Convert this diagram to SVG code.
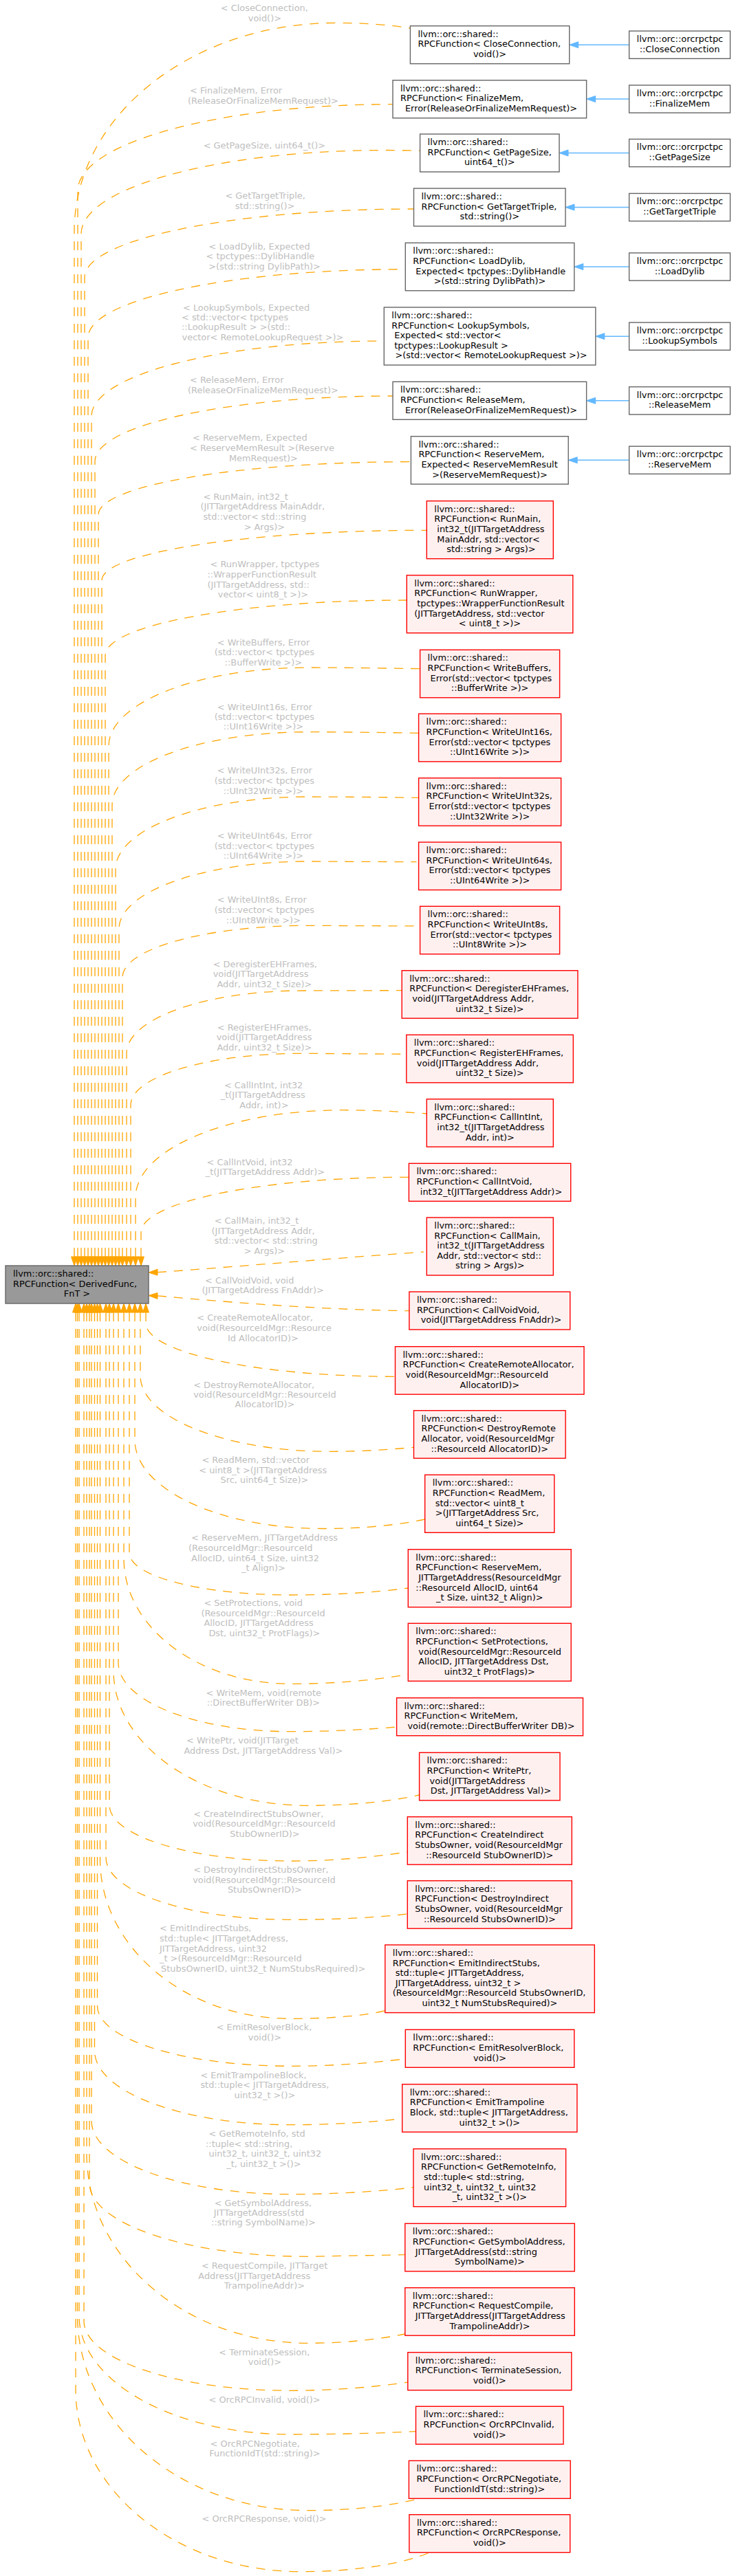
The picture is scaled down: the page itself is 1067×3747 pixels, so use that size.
<svg xmlns="http://www.w3.org/2000/svg" width="1067" height="3747" viewBox="0 0 1067 3747">
<style>
text{font-family:'DejaVu Sans',sans-serif;font-size:12.9px;fill:#000}
.m{text-anchor:middle}
.el{fill:#BEBEBE}
.g{fill:#fff;stroke:#666;stroke-width:1.4}
.r{fill:#FFF0F0;stroke:#FF0000;stroke-width:1.4}
.c{fill:#999;stroke:#666;stroke-width:1.4}
.e{fill:none;stroke:#FFA500;stroke-width:1.3;stroke-dasharray:13 11}
.a{fill:#FFA500;stroke:#FFA500;stroke-width:1}
.b{fill:none;stroke:#63B8FF;stroke-width:1.5}
.ba{fill:#63B8FF;stroke:#63B8FF;stroke-width:1}
</style>
<rect width="1067" height="3747" fill="#fff"/>
<g id="edges">
<path class="e" d="M108,1828 L108,336.3 C108,169 278.4,33.3 488.6,33.3 C530,33.3 565,36 596.4,41"/>
<path class="e" d="M113,1828 L113,277.6 C113,208.1 318,151.7 571,151.7"/>
<path class="e" d="M118,1828 L118,340.1 C118,272.9 315.9,218.5 560,218.5 L610.6,219"/>
<path class="e" d="M123,1828 L123,403.3 C123,348.5 337.2,304 601.5,304"/>
<path class="e" d="M128,1828 L128,490.9 C128,436.1 334.5,391.7 589.3,391.7"/>
<path class="e" d="M133,1828 L133,605.5 C133,545 323.4,496 558.3,496"/>
<path class="e" d="M138,1828 L138,671 C138,618.5 331.9,576 571,576"/>
<path class="e" d="M143,1828 L143,748.7 C143,706.2 346.4,671.7 597.4,671.7"/>
<path class="e" d="M148,1828 L148,844.2 C148,803.9 359.4,771.3 620.3,771.3"/>
<path class="e" d="M153,1828 L153,953.3 C153,909 349.2,873 591.3,873"/>
<path class="e" d="M158,1828 L158,1085.3 C158,1022.2 288.7,971 450,971 C500,971 560,972 610.6,972.7"/>
<path class="e" d="M163,1828 L163,1171.1 C163,1112.3 290.6,1064.7 448,1064.7 C500,1064.7 560,1065.5 608.6,1066.3"/>
<path class="e" d="M168,1828 L168,1264.3 C168,1206.1 293.4,1159 448,1159 C500,1159 560,1159.7 608.6,1160.3"/>
<path class="e" d="M173,1828 L173,1351 C173,1296.9 296.1,1253 448,1253 L605.5,1253.7"/>
<path class="e" d="M178,1828 L178,1421.7 C178,1380.1 298.9,1346.3 448,1346.3 L610.6,1347"/>
<path class="e" d="M184,1828 L184,1532.2 C184,1481.8 298.6,1441 440,1441 L584.2,1440.7"/>
<path class="e" d="M190,1828 L190,1607.3 C190,1565.9 302,1532.3 440,1532.3 L590.8,1533.3"/>
<path class="e" d="M197,1828 L197,1742 C197,1671.7 332.1,1614.7 498.8,1614.7 C540,1614.7 585,1617 620.3,1620"/>
<path class="e" d="M205,1828 L205,1792.8 C205,1748.3 379.3,1712.3 594.4,1712.3"/>
<path class="e" d="M229,1850.6 C300,1846 450,1833 615.7,1821"/>
<path class="e" d="M229,1884.9 C300,1891 450,1905 595.4,1906.7"/>
<path class="e" d="M212,1909 L212,1924.6 C212,1967.5 374.5,2002.3 575,2002.3"/>
<path class="e" d="M204,1909 L204,2001.3 C204,2062.1 327.6,2111.3 480,2111.3 C530,2111.3 570,2108 601.5,2105.3"/>
<path class="e" d="M196,1909 L196,2094.6 C196,2165.8 318.7,2223.5 470,2223.5 C530,2223.5 580,2218 617.7,2210"/>
<path class="e" d="M188,1909 L188,2258.8 C188,2292.6 293,2320 422.5,2320 C480,2320 540,2317 593.3,2310"/>
<path class="e" d="M180,1909 L180,2266.8 C180,2367.6 288.6,2449.3 422.5,2449.3 C480,2449.3 540,2445 593.3,2435.3"/>
<path class="e" d="M172,1909 L172,2418.7 C172,2473.9 284.2,2518.7 422.5,2518.7 C480,2518.7 530,2516 576.6,2512"/>
<path class="e" d="M165,1909 L165,2430.3 C165,2538.6 291.7,2626.3 448,2626.3 C510,2626.3 570,2620 609.6,2611"/>
<path class="e" d="M159,1909 L159,2625.7 C159,2670.6 277,2707 422.5,2707 C480,2707 540,2702 592.3,2693.7"/>
<path class="e" d="M154,1909 L154,2701.9 C154,2751.8 274.2,2792.3 422.5,2792.3 C480,2792.3 540,2790 592.3,2784"/>
<path class="e" d="M145.5,1909 L145.5,2704.3 C145.5,2832.4 269.5,2936.3 422.5,2936.3 C480,2936.3 530,2932 559.8,2924.7"/>
<path class="e" d="M141.5,1909 L141.5,2917.8 C141.5,2966.1 267.3,3005.3 422.5,3005.3 C480,3005.3 540,3001 589.3,2994.7"/>
<path class="e" d="M137.5,1909 L137.5,2983.1 C137.5,3042.5 265.1,3090.7 422.5,3090.7 C480,3090.7 540,3087 584.7,3081.7"/>
<path class="e" d="M133,1909 L133,3085 C133,3143.9 262.6,3191.7 422.5,3191.7 C480,3191.7 550,3188 601,3181.7"/>
<path class="e" d="M130,1909 L130,3175.5 C130,3234.5 272.4,3282.3 448,3282.3 L588.8,3279.7"/>
<path class="e" d="M126,1909 L126,3132.3 C126,3284.7 270.2,3408.3 448,3408.3 C500,3408.3 550,3403 588.8,3395"/>
<path class="e" d="M122,1909 L122,3376.1 C122,3432 256.5,3477.3 422.5,3477.3 C480,3477.3 550,3472 592.8,3465"/>
<path class="e" d="M115,1909 L115,3368.6 C115,3463.8 252.7,3541 422.5,3541 C490,3541 560,3539 604.5,3536.7"/>
<path class="e" d="M112.5,1909 L112.5,3366.9 C112.5,3524.2 262.7,3651.7 448,3651.7 C510,3651.7 570,3645 610.6,3634"/>
<path class="e" d="M110,1909 L110,3475.7 C110,3622.1 256.8,3740.7 437.8,3740.7 C520,3740.7 590,3728 625.9,3712.3"/>
<polygon class="a" points="103.5,1828 112.5,1828 108,1841"/>
<polygon class="a" points="108.5,1828 117.5,1828 113,1841"/>
<polygon class="a" points="113.5,1828 122.5,1828 118,1841"/>
<polygon class="a" points="118.5,1828 127.5,1828 123,1841"/>
<polygon class="a" points="123.5,1828 132.5,1828 128,1841"/>
<polygon class="a" points="128.5,1828 137.5,1828 133,1841"/>
<polygon class="a" points="133.5,1828 142.5,1828 138,1841"/>
<polygon class="a" points="138.5,1828 147.5,1828 143,1841"/>
<polygon class="a" points="143.5,1828 152.5,1828 148,1841"/>
<polygon class="a" points="148.5,1828 157.5,1828 153,1841"/>
<polygon class="a" points="153.5,1828 162.5,1828 158,1841"/>
<polygon class="a" points="158.5,1828 167.5,1828 163,1841"/>
<polygon class="a" points="163.5,1828 172.5,1828 168,1841"/>
<polygon class="a" points="168.5,1828 177.5,1828 173,1841"/>
<polygon class="a" points="173.5,1828 182.5,1828 178,1841"/>
<polygon class="a" points="179.5,1828 188.5,1828 184,1841"/>
<polygon class="a" points="185.5,1828 194.5,1828 190,1841"/>
<polygon class="a" points="192.5,1828 201.5,1828 197,1841"/>
<polygon class="a" points="200.5,1828 209.5,1828 205,1841"/>
<polygon class="a" points="229,1846.1 229,1855.1 216,1851"/>
<polygon class="a" points="229,1880.4 229,1889.4 216,1884.5"/>
<polygon class="a" points="207.5,1909 216.5,1909 212,1896"/>
<polygon class="a" points="199.5,1909 208.5,1909 204,1896"/>
<polygon class="a" points="191.5,1909 200.5,1909 196,1896"/>
<polygon class="a" points="183.5,1909 192.5,1909 188,1896"/>
<polygon class="a" points="175.5,1909 184.5,1909 180,1896"/>
<polygon class="a" points="167.5,1909 176.5,1909 172,1896"/>
<polygon class="a" points="160.5,1909 169.5,1909 165,1896"/>
<polygon class="a" points="154.5,1909 163.5,1909 159,1896"/>
<polygon class="a" points="149.5,1909 158.5,1909 154,1896"/>
<polygon class="a" points="141,1909 150,1909 145.5,1896"/>
<polygon class="a" points="137,1909 146,1909 141.5,1896"/>
<polygon class="a" points="133,1909 142,1909 137.5,1896"/>
<polygon class="a" points="128.5,1909 137.5,1909 133,1896"/>
<polygon class="a" points="125.5,1909 134.5,1909 130,1896"/>
<polygon class="a" points="121.5,1909 130.5,1909 126,1896"/>
<polygon class="a" points="117.5,1909 126.5,1909 122,1896"/>
<polygon class="a" points="110.5,1909 119.5,1909 115,1896"/>
<polygon class="a" points="108,1909 117,1909 112.5,1896"/>
<polygon class="a" points="105.5,1909 114.5,1909 110,1896"/>
<path class="b" d="M914.6,65.2 L840.7,65.2"/><polygon class="ba" points="840.7,60.7 840.7,69.7 827.7,65.2"/>
<path class="b" d="M914.6,144 L865.6,144"/><polygon class="ba" points="865.6,139.5 865.6,148.5 852.6,144"/>
<path class="b" d="M914.6,222.5 L826,222.5"/><polygon class="ba" points="826,218 826,227 813,222.5"/>
<path class="b" d="M914.6,301.5 L835,301.5"/><polygon class="ba" points="835,297 835,306 822,301.5"/>
<path class="b" d="M914.6,388 L847.8,388"/><polygon class="ba" points="847.8,383.5 847.8,392.5 834.8,388"/>
<path class="b" d="M914.6,489.2 L878.8,489.2"/><polygon class="ba" points="878.8,484.7 878.8,493.7 865.8,489.2"/>
<path class="b" d="M914.6,582.8 L865.6,582.8"/><polygon class="ba" points="865.6,578.3 865.6,587.3 852.6,582.8"/>
<path class="b" d="M914.6,669.3 L839.2,669.3"/><polygon class="ba" points="839.2,664.8 839.2,673.8 826.2,669.3"/>
</g>
<g id="edge-labels">
<text class="el"><tspan x="320.8" y="16.2">&lt; CloseConnection,</tspan><tspan class="m" x="384.9" y="30.5">void()&gt;</tspan></text>
<text class="el"><tspan x="276" y="136.2">&lt; FinalizeMem, Error</tspan><tspan class="m" x="382.4" y="151.2">(ReleaseOrFinalizeMemRequest)&gt;</tspan></text>
<text class="el m" x="384.4" y="215.5">&lt; GetPageSize, uint64_t()&gt;</text>
<text class="el"><tspan x="327.4" y="289.2">&lt; GetTargetTriple,</tspan><tspan class="m" x="385" y="303.8">std::string()&gt;</tspan></text>
<text class="el"><tspan x="303.6" y="362.8">&lt; LoadDylib, Expected</tspan><tspan x="299.5" y="377.2">&lt; tpctypes::DylibHandle</tspan><tspan class="m" x="384.6" y="391.8">&gt;(std::string DylibPath)&gt;</tspan></text>
<text class="el"><tspan x="266" y="451.5">&lt; LookupSymbols, Expected</tspan><tspan x="264" y="465.5">&lt; std::vector&lt; tpctypes</tspan><tspan x="264" y="480.2">::LookupResult &gt; &gt;(std::</tspan><tspan class="m" x="382" y="495.2">vector&lt; RemoteLookupRequest &gt;)&gt;</tspan></text>
<text class="el"><tspan x="276" y="557.2">&lt; ReleaseMem, Error</tspan><tspan class="m" x="382.4" y="572.2">(ReleaseOrFinalizeMemRequest)&gt;</tspan></text>
<text class="el"><tspan x="280" y="641.2">&lt; ReserveMem, Expected</tspan><tspan x="276" y="656.2">&lt; ReserveMemResult &gt;(Reserve</tspan><tspan class="m" x="382.9" y="670.8">MemRequest)&gt;</tspan></text>
<text class="el"><tspan x="295.4" y="727.2">&lt; RunMain, int32_t</tspan><tspan x="291.4" y="740.8">(JITTargetAddress MainAddr,</tspan><tspan x="295.4" y="756.2">std::vector&lt; std::string</tspan><tspan class="m" x="384.4" y="771.2">&gt; Args)&gt;</tspan></text>
<text class="el"><tspan x="305.6" y="825.2">&lt; RunWrapper, tpctypes</tspan><tspan x="301.5" y="840.2">::WrapperFunctionResult</tspan><tspan x="301.5" y="854.8">(JITTargetAddress, std::</tspan><tspan class="m" x="382.4" y="869.2">vector&lt; uint8_t &gt;)&gt;</tspan></text>
<text class="el"><tspan x="315.8" y="938.8">&lt; WriteBuffers, Error</tspan><tspan x="311.7" y="953.2">(std::vector&lt; tpctypes</tspan><tspan class="m" x="382.9" y="967.5">::BufferWrite &gt;)&gt;</tspan></text>
<text class="el"><tspan x="315.8" y="1032.5">&lt; WriteUInt16s, Error</tspan><tspan x="311.7" y="1046.8">(std::vector&lt; tpctypes</tspan><tspan class="m" x="382.9" y="1060.8">::UInt16Write &gt;)&gt;</tspan></text>
<text class="el"><tspan x="315.8" y="1125.2">&lt; WriteUInt32s, Error</tspan><tspan x="311.7" y="1140.2">(std::vector&lt; tpctypes</tspan><tspan class="m" x="382.9" y="1154.8">::UInt32Write &gt;)&gt;</tspan></text>
<text class="el"><tspan x="315.8" y="1220.2">&lt; WriteUInt64s, Error</tspan><tspan x="311.7" y="1234.8">(std::vector&lt; tpctypes</tspan><tspan class="m" x="382.9" y="1248.8">::UInt64Write &gt;)&gt;</tspan></text>
<text class="el"><tspan x="315.8" y="1313.2">&lt; WriteUInt8s, Error</tspan><tspan x="311.7" y="1327.8">(std::vector&lt; tpctypes</tspan><tspan class="m" x="382.9" y="1342.5">::UInt8Write &gt;)&gt;</tspan></text>
<text class="el"><tspan x="309.7" y="1407.2">&lt; DeregisterEHFrames,</tspan><tspan x="309.7" y="1421.2">void(JITTargetAddress</tspan><tspan class="m" x="384.4" y="1435.8">Addr, uint32_t Size)&gt;</tspan></text>
<text class="el"><tspan x="315.8" y="1499.2">&lt; RegisterEHFrames,</tspan><tspan x="314.7" y="1513.2">void(JITTargetAddress</tspan><tspan class="m" x="384.4" y="1527.8">Addr, uint32_t Size)&gt;</tspan></text>
<text class="el"><tspan x="325.9" y="1582.8">&lt; CallIntInt, int32</tspan><tspan x="320.8" y="1597.2">_t(JITTargetAddress</tspan><tspan class="m" x="383.9" y="1611.8">Addr, int)&gt;</tspan></text>
<text class="el"><tspan x="300.5" y="1694.5">&lt; CallIntVoid, int32</tspan><tspan class="m" x="385.4" y="1709">_t(JITTargetAddress Addr)&gt;</tspan></text>
<text class="el"><tspan x="311.7" y="1780.2">&lt; CallMain, int32_t</tspan><tspan x="307.6" y="1794.8">(JITTargetAddress Addr,</tspan><tspan x="311.7" y="1808.8">std::vector&lt; std::string</tspan><tspan class="m" x="384.4" y="1823.8">&gt; Args)&gt;</tspan></text>
<text class="el"><tspan x="298" y="1866.8">&lt; CallVoidVoid, void</tspan><tspan class="m" x="382.1" y="1880.8">(JITTargetAddress FnAddr)&gt;</tspan></text>
<text class="el"><tspan x="286.3" y="1921.2">&lt; CreateRemoteAllocator,</tspan><tspan x="286.3" y="1936.2">void(ResourceIdMgr::Resource</tspan><tspan class="m" x="382.4" y="1950.5">Id AllocatorID)&gt;</tspan></text>
<text class="el"><tspan x="281.2" y="2018.8">&lt; DestroyRemoteAllocator,</tspan><tspan x="281.2" y="2032.8">void(ResourceIdMgr::ResourceId</tspan><tspan class="m" x="384.9" y="2046.8">AllocatorID)&gt;</tspan></text>
<text class="el"><tspan x="293.4" y="2128.2">&lt; ReadMem, std::vector</tspan><tspan x="289.3" y="2142.8">&lt; uint8_t &gt;(JITTargetAddress</tspan><tspan class="m" x="384.4" y="2157.2">Src, uint64_t Size)&gt;</tspan></text>
<text class="el"><tspan x="278.1" y="2241.2">&lt; ReserveMem, JITTargetAddress</tspan><tspan x="274.1" y="2255.8">(ResourceIdMgr::ResourceId</tspan><tspan x="278.1" y="2270.8">AllocID, uint64_t Size, uint32</tspan><tspan class="m" x="382.9" y="2285.2">_t Align)&gt;</tspan></text>
<text class="el"><tspan x="296.4" y="2336.2">&lt; SetProtections, void</tspan><tspan x="292.4" y="2350.8">(ResourceIdMgr::ResourceId</tspan><tspan x="296.4" y="2365.2">AllocID, JITTargetAddress</tspan><tspan class="m" x="384.4" y="2379.8">Dst, uint32_t ProtFlags)&gt;</tspan></text>
<text class="el"><tspan x="299.5" y="2467.2">&lt; WriteMem, void(remote</tspan><tspan class="m" x="382.9" y="2480.8">::DirectBufferWriter DB)&gt;</tspan></text>
<text class="el"><tspan x="271" y="2536.2">&lt; WritePtr, void(JITTarget</tspan><tspan class="m" x="382.9" y="2551.2">Address Dst, JITTargetAddress Val)&gt;</tspan></text>
<text class="el"><tspan x="281.2" y="2643.2">&lt; CreateIndirectStubsOwner,</tspan><tspan x="280.2" y="2657.2">void(ResourceIdMgr::ResourceId</tspan><tspan class="m" x="384.9" y="2671.8">StubOwnerID)&gt;</tspan></text>
<text class="el"><tspan x="281.2" y="2724.2">&lt; DestroyIndirectStubsOwner,</tspan><tspan x="280.2" y="2738.5">void(ResourceIdMgr::ResourceId</tspan><tspan class="m" x="384.9" y="2753.2">StubsOwnerID)&gt;</tspan></text>
<text class="el"><tspan x="232" y="2809.2">&lt; EmitIndirectStubs,</tspan><tspan x="232" y="2823.8">std::tuple&lt; JITTargetAddress,</tspan><tspan x="232" y="2839.2">JITTargetAddress, uint32</tspan><tspan x="232" y="2853.2">_t &gt;(ResourceIdMgr::ResourceId</tspan><tspan class="m" x="382.7" y="2868.2">StubsOwnerID, uint32_t NumStubsRequired)&gt;</tspan></text>
<text class="el"><tspan x="314.7" y="2952.8">&lt; EmitResolverBlock,</tspan><tspan class="m" x="384.9" y="2967.8">void()&gt;</tspan></text>
<text class="el"><tspan x="291.4" y="3023.2">&lt; EmitTrampolineBlock,</tspan><tspan x="291.4" y="3037.2">std::tuple&lt; JITTargetAddress,</tspan><tspan class="m" x="384.9" y="3051.8">uint32_t &gt;()&gt;</tspan></text>
<text class="el"><tspan x="303.6" y="3107.8">&lt; GetRemoteInfo, std</tspan><tspan x="299" y="3122.8">::tuple&lt; std::string,</tspan><tspan x="303.6" y="3136.8">uint32_t, uint32_t, uint32</tspan><tspan class="m" x="383.4" y="3152.2">_t, uint32_t &gt;()&gt;</tspan></text>
<text class="el"><tspan x="311.7" y="3208.5">&lt; GetSymbolAddress,</tspan><tspan x="310.7" y="3223.2">JITTargetAddress(std</tspan><tspan class="m" x="382.9" y="3237.2">::string SymbolName)&gt;</tspan></text>
<text class="el"><tspan x="292.9" y="3300.2">&lt; RequestCompile, JITTarget</tspan><tspan x="288.3" y="3315.2">Address(JITTargetAddress</tspan><tspan class="m" x="384.4" y="3329.2">TrampolineAddr)&gt;</tspan></text>
<text class="el"><tspan x="318.3" y="3425.5">&lt; TerminateSession,</tspan><tspan class="m" x="384.9" y="3439.5">void()&gt;</tspan></text>
<text class="el m" x="384.6" y="3494.8">&lt; OrcRPCInvalid, void()&gt;</text>
<text class="el"><tspan x="305.6" y="3559.2">&lt; OrcRPCNegotiate,</tspan><tspan class="m" x="384.9" y="3573.2">FunctionIdT(std::string)&gt;</tspan></text>
<text class="el m" x="384.1" y="3668.2">&lt; OrcRPCResponse, void()&gt;</text>
</g>
<g id="base">
<rect class="c" x="8" y="1841" width="208" height="55"/>
<text><tspan x="19" y="1857">llvm::orc::shared::</tspan><tspan x="19" y="1871.6">RPCFunction&lt; DerivedFunc,</tspan><tspan class="m" x="112" y="1886.2">FnT &gt;</tspan></text>
</g>
<g id="n1"><rect class="g" x="596.4" y="37.7" width="231.3" height="55"/><text><tspan x="607.4" y="53.7">llvm::orc::shared::</tspan><tspan x="607.4" y="68.3">RPCFunction&lt; CloseConnection,</tspan><tspan class="m" x="712" y="82.9">void()&gt;</tspan></text></g>
<g id="n2"><rect class="g" x="571" y="116.7" width="281.6" height="55"/><text><tspan x="582" y="132.7">llvm::orc::shared::</tspan><tspan x="582" y="147.3">RPCFunction&lt; FinalizeMem,</tspan><tspan class="m" x="714" y="161.9">Error(ReleaseOrFinalizeMemRequest)&gt;</tspan></text></g>
<g id="n3"><rect class="g" x="610.6" y="195" width="202.4" height="55"/><text><tspan x="621.6" y="211">llvm::orc::shared::</tspan><tspan x="621.6" y="225.6">RPCFunction&lt; GetPageSize,</tspan><tspan class="m" x="711.8" y="240.2">uint64_t()&gt;</tspan></text></g>
<g id="n4"><rect class="g" x="601.5" y="274" width="220.5" height="55"/><text><tspan x="612.5" y="290">llvm::orc::shared::</tspan><tspan x="612.5" y="304.6">RPCFunction&lt; GetTargetTriple,</tspan><tspan class="m" x="711.8" y="319.2">std::string()&gt;</tspan></text></g>
<g id="n5"><rect class="g" x="589.3" y="353.3" width="245.5" height="69.5"/><text><tspan x="600.3" y="369.3">llvm::orc::shared::</tspan><tspan x="600.3" y="383.9">RPCFunction&lt; LoadDylib,</tspan><tspan x="604.3" y="398.5">Expected&lt; tpctypes::DylibHandle</tspan><tspan class="m" x="712" y="413.1">&gt;(std::string DylibPath)&gt;</tspan></text></g>
<g id="n6"><rect class="g" x="558.3" y="447" width="307.5" height="84"/><text><tspan x="569.3" y="463">llvm::orc::shared::</tspan><tspan x="569.3" y="477.6">RPCFunction&lt; LookupSymbols,</tspan><tspan x="573.3" y="492.2">Expected&lt; std::vector&lt;</tspan><tspan x="573.3" y="506.8">tpctypes::LookupResult &gt;</tspan><tspan class="m" x="714" y="521.4">&gt;(std::vector&lt; RemoteLookupRequest &gt;)&gt;</tspan></text></g>
<g id="n7"><rect class="g" x="571" y="555.3" width="281.6" height="55"/><text><tspan x="582" y="571.3">llvm::orc::shared::</tspan><tspan x="582" y="585.9">RPCFunction&lt; ReleaseMem,</tspan><tspan class="m" x="714" y="600.5">Error(ReleaseOrFinalizeMemRequest)&gt;</tspan></text></g>
<g id="n8"><rect class="g" x="597.4" y="634.7" width="228.8" height="69.5"/><text><tspan x="608.4" y="650.7">llvm::orc::shared::</tspan><tspan x="608.4" y="665.3">RPCFunction&lt; ReserveMem,</tspan><tspan x="612.4" y="679.9">Expected&lt; ReserveMemResult</tspan><tspan class="m" x="712" y="694.5">&gt;(ReserveMemRequest)&gt;</tspan></text></g>
<g id="n9"><rect class="r" x="620.3" y="728.7" width="184" height="84"/><text><tspan x="631.3" y="744.7">llvm::orc::shared::</tspan><tspan x="631.3" y="759.3">RPCFunction&lt; RunMain,</tspan><tspan x="635.3" y="773.9">int32_t(JITTargetAddress</tspan><tspan x="635.3" y="788.5">MainAddr, std::vector&lt;</tspan><tspan class="m" x="714" y="803.1">std::string &gt; Args)&gt;</tspan></text></g>
<g id="n10"><rect class="r" x="591.3" y="836.7" width="241.5" height="84"/><text><tspan x="602.3" y="852.7">llvm::orc::shared::</tspan><tspan x="602.3" y="867.3">RPCFunction&lt; RunWrapper,</tspan><tspan x="606.3" y="881.9">tpctypes::WrapperFunctionResult</tspan><tspan x="602.3" y="896.5">(JITTargetAddress, std::vector</tspan><tspan class="m" x="712" y="911.1">&lt; uint8_t &gt;)&gt;</tspan></text></g>
<g id="n11"><rect class="r" x="610.6" y="945.3" width="203" height="69.5"/><text><tspan x="621.6" y="961.3">llvm::orc::shared::</tspan><tspan x="621.6" y="975.9">RPCFunction&lt; WriteBuffers,</tspan><tspan x="625.6" y="990.5">Error(std::vector&lt; tpctypes</tspan><tspan class="m" x="712.1" y="1005.1">::BufferWrite &gt;)&gt;</tspan></text></g>
<g id="n12"><rect class="r" x="608.6" y="1038.3" width="207" height="69.5"/><text><tspan x="619.6" y="1054.3">llvm::orc::shared::</tspan><tspan x="619.6" y="1068.9">RPCFunction&lt; WriteUInt16s,</tspan><tspan x="623.6" y="1083.5">Error(std::vector&lt; tpctypes</tspan><tspan class="m" x="712.1" y="1098.1">::UInt16Write &gt;)&gt;</tspan></text></g>
<g id="n13"><rect class="r" x="608.6" y="1131.7" width="207" height="69.5"/><text><tspan x="619.6" y="1147.7">llvm::orc::shared::</tspan><tspan x="619.6" y="1162.3">RPCFunction&lt; WriteUInt32s,</tspan><tspan x="623.6" y="1176.9">Error(std::vector&lt; tpctypes</tspan><tspan class="m" x="712.1" y="1191.5">::UInt32Write &gt;)&gt;</tspan></text></g>
<g id="n14"><rect class="r" x="608.6" y="1225" width="207" height="69.5"/><text><tspan x="619.6" y="1241">llvm::orc::shared::</tspan><tspan x="619.6" y="1255.6">RPCFunction&lt; WriteUInt64s,</tspan><tspan x="623.6" y="1270.2">Error(std::vector&lt; tpctypes</tspan><tspan class="m" x="712.1" y="1284.8">::UInt64Write &gt;)&gt;</tspan></text></g>
<g id="n15"><rect class="r" x="610.6" y="1318.3" width="203" height="69.5"/><text><tspan x="621.6" y="1334.3">llvm::orc::shared::</tspan><tspan x="621.6" y="1348.9">RPCFunction&lt; WriteUInt8s,</tspan><tspan x="625.6" y="1363.5">Error(std::vector&lt; tpctypes</tspan><tspan class="m" x="712.1" y="1378.1">::UInt8Write &gt;)&gt;</tspan></text></g>
<g id="n16"><rect class="r" x="584.2" y="1411.7" width="255.7" height="69.5"/><text><tspan x="595.2" y="1427.7">llvm::orc::shared::</tspan><tspan x="595.2" y="1442.3">RPCFunction&lt; DeregisterEHFrames,</tspan><tspan x="599.2" y="1456.9">void(JITTargetAddress Addr,</tspan><tspan class="m" x="712" y="1471.5">uint32_t Size)&gt;</tspan></text></g>
<g id="n17"><rect class="r" x="590.8" y="1505.3" width="242.5" height="69.5"/><text><tspan x="601.8" y="1521.3">llvm::orc::shared::</tspan><tspan x="601.8" y="1535.9">RPCFunction&lt; RegisterEHFrames,</tspan><tspan x="605.8" y="1550.5">void(JITTargetAddress Addr,</tspan><tspan class="m" x="712" y="1565.1">uint32_t Size)&gt;</tspan></text></g>
<g id="n18"><rect class="r" x="620.3" y="1598.7" width="184" height="69.5"/><text><tspan x="631.3" y="1614.7">llvm::orc::shared::</tspan><tspan x="631.3" y="1629.3">RPCFunction&lt; CallIntInt,</tspan><tspan x="635.3" y="1643.9">int32_t(JITTargetAddress</tspan><tspan class="m" x="712.3" y="1658.5">Addr, int)&gt;</tspan></text></g>
<g id="n19"><rect class="r" x="594.4" y="1692.3" width="235.3" height="55"/><text><tspan x="605.4" y="1708.3">llvm::orc::shared::</tspan><tspan x="605.4" y="1722.9">RPCFunction&lt; CallIntVoid,</tspan><tspan class="m" x="714" y="1737.5">int32_t(JITTargetAddress Addr)&gt;</tspan></text></g>
<g id="n20"><rect class="r" x="620.3" y="1771" width="184" height="84"/><text><tspan x="631.3" y="1787">llvm::orc::shared::</tspan><tspan x="631.3" y="1801.6">RPCFunction&lt; CallMain,</tspan><tspan x="635.3" y="1816.2">int32_t(JITTargetAddress</tspan><tspan x="635.3" y="1830.8">Addr, std::vector&lt; std::</tspan><tspan class="m" x="712.3" y="1845.4">string &gt; Args)&gt;</tspan></text></g>
<g id="n21"><rect class="r" x="594.9" y="1879" width="233.8" height="55"/><text><tspan x="605.9" y="1895">llvm::orc::shared::</tspan><tspan x="605.9" y="1909.6">RPCFunction&lt; CallVoidVoid,</tspan><tspan class="m" x="714" y="1924.2">void(JITTargetAddress FnAddr)&gt;</tspan></text></g>
<g id="n22"><rect class="r" x="574.5" y="1958.7" width="274.5" height="69.5"/><text><tspan x="585.5" y="1974.7">llvm::orc::shared::</tspan><tspan x="585.5" y="1989.3">RPCFunction&lt; CreateRemoteAllocator,</tspan><tspan x="589.5" y="2003.9">void(ResourceIdMgr::ResourceId</tspan><tspan class="m" x="711.8" y="2018.5">AllocatorID)&gt;</tspan></text></g>
<g id="n23"><rect class="r" x="601.5" y="2051.7" width="220.6" height="69.5"/><text><tspan x="612.5" y="2067.7">llvm::orc::shared::</tspan><tspan x="612.5" y="2082.3">RPCFunction&lt; DestroyRemote</tspan><tspan x="612.5" y="2096.9">Allocator, void(ResourceIdMgr</tspan><tspan class="m" x="711.8" y="2111.5">::ResourceId AllocatorID)&gt;</tspan></text></g>
<g id="n24"><rect class="r" x="617.7" y="2145.3" width="188.1" height="84"/><text><tspan x="628.7" y="2161.3">llvm::orc::shared::</tspan><tspan x="628.7" y="2175.9">RPCFunction&lt; ReadMem,</tspan><tspan x="632.7" y="2190.5">std::vector&lt; uint8_t</tspan><tspan x="632.7" y="2205.1">&gt;(JITTargetAddress Src,</tspan><tspan class="m" x="711.8" y="2219.7">uint64_t Size)&gt;</tspan></text></g>
<g id="n25"><rect class="r" x="593.3" y="2253.7" width="236.9" height="84"/><text><tspan x="604.3" y="2269.7">llvm::orc::shared::</tspan><tspan x="604.3" y="2284.3">RPCFunction&lt; ReserveMem,</tspan><tspan x="608.3" y="2298.9">JITTargetAddress(ResourceIdMgr</tspan><tspan x="604.3" y="2313.5">::ResourceId AllocID, uint64</tspan><tspan class="m" x="711.8" y="2328.1">_t Size, uint32_t Align)&gt;</tspan></text></g>
<g id="n26"><rect class="r" x="593.3" y="2361.3" width="236.9" height="84"/><text><tspan x="604.3" y="2377.3">llvm::orc::shared::</tspan><tspan x="604.3" y="2391.9">RPCFunction&lt; SetProtections,</tspan><tspan x="608.3" y="2406.5">void(ResourceIdMgr::ResourceId</tspan><tspan x="608.3" y="2421.1">AllocID, JITTargetAddress Dst,</tspan><tspan class="m" x="711.8" y="2435.7">uint32_t ProtFlags)&gt;</tspan></text></g>
<g id="n27"><rect class="r" x="576.6" y="2469.7" width="270.9" height="55"/><text><tspan x="587.6" y="2485.7">llvm::orc::shared::</tspan><tspan x="587.6" y="2500.3">RPCFunction&lt; WriteMem,</tspan><tspan class="m" x="714" y="2514.9">void(remote::DirectBufferWriter DB)&gt;</tspan></text></g>
<g id="n28"><rect class="r" x="609.6" y="2549.3" width="204.4" height="69.5"/><text><tspan x="620.6" y="2565.3">llvm::orc::shared::</tspan><tspan x="620.6" y="2579.9">RPCFunction&lt; WritePtr,</tspan><tspan x="624.6" y="2594.5">void(JITTargetAddress</tspan><tspan class="m" x="713.5" y="2609.1">Dst, JITTargetAddress Val)&gt;</tspan></text></g>
<g id="n29"><rect class="r" x="592.3" y="2642.7" width="239" height="69.5"/><text><tspan x="603.3" y="2658.7">llvm::orc::shared::</tspan><tspan x="603.3" y="2673.3">RPCFunction&lt; CreateIndirect</tspan><tspan x="603.3" y="2687.9">StubsOwner, void(ResourceIdMgr</tspan><tspan class="m" x="711.8" y="2702.5">::ResourceId StubOwnerID)&gt;</tspan></text></g>
<g id="n30"><rect class="r" x="592.3" y="2735.7" width="239" height="69.5"/><text><tspan x="603.3" y="2751.7">llvm::orc::shared::</tspan><tspan x="603.3" y="2766.3">RPCFunction&lt; DestroyIndirect</tspan><tspan x="603.3" y="2780.9">StubsOwner, void(ResourceIdMgr</tspan><tspan class="m" x="711.8" y="2795.5">::ResourceId StubsOwnerID)&gt;</tspan></text></g>
<g id="n31"><rect class="r" x="559.8" y="2829" width="304.5" height="98.6"/><text><tspan x="570.8" y="2845">llvm::orc::shared::</tspan><tspan x="570.8" y="2859.6">RPCFunction&lt; EmitIndirectStubs,</tspan><tspan x="574.8" y="2874.2">std::tuple&lt; JITTargetAddress,</tspan><tspan x="574.8" y="2888.8">JITTargetAddress, uint32_t &gt;</tspan><tspan x="570.8" y="2903.4">(ResourceIdMgr::ResourceId StubsOwnerID,</tspan><tspan class="m" x="712" y="2918">uint32_t NumStubsRequired)&gt;</tspan></text></g>
<g id="n32"><rect class="r" x="589.3" y="2952.3" width="245.5" height="55"/><text><tspan x="600.3" y="2968.3">llvm::orc::shared::</tspan><tspan x="600.3" y="2982.9">RPCFunction&lt; EmitResolverBlock,</tspan><tspan class="m" x="712" y="2997.5">void()&gt;</tspan></text></g>
<g id="n33"><rect class="r" x="584.7" y="3031.7" width="254.2" height="69.5"/><text><tspan x="595.7" y="3047.7">llvm::orc::shared::</tspan><tspan x="595.7" y="3062.3">RPCFunction&lt; EmitTrampoline</tspan><tspan x="595.7" y="3076.9">Block, std::tuple&lt; JITTargetAddress,</tspan><tspan class="m" x="711.8" y="3091.5">uint32_t &gt;()&gt;</tspan></text></g>
<g id="n34"><rect class="r" x="601" y="3125.7" width="221.6" height="84"/><text><tspan x="612" y="3141.7">llvm::orc::shared::</tspan><tspan x="612" y="3156.3">RPCFunction&lt; GetRemoteInfo,</tspan><tspan x="616" y="3170.9">std::tuple&lt; std::string,</tspan><tspan x="616" y="3185.5">uint32_t, uint32_t, uint32</tspan><tspan class="m" x="711.8" y="3200.1">_t, uint32_t &gt;()&gt;</tspan></text></g>
<g id="n35"><rect class="r" x="588.8" y="3234.3" width="246.5" height="69.5"/><text><tspan x="599.8" y="3250.3">llvm::orc::shared::</tspan><tspan x="599.8" y="3264.9">RPCFunction&lt; GetSymbolAddress,</tspan><tspan x="603.8" y="3279.5">JITTargetAddress(std::string</tspan><tspan class="m" x="712" y="3294.1">SymbolName)&gt;</tspan></text></g>
<g id="n36"><rect class="r" x="588.8" y="3327.7" width="246.5" height="69.5"/><text><tspan x="599.8" y="3343.7">llvm::orc::shared::</tspan><tspan x="599.8" y="3358.3">RPCFunction&lt; RequestCompile,</tspan><tspan x="603.8" y="3372.9">JITTargetAddress(JITTargetAddress</tspan><tspan class="m" x="712" y="3387.5">TrampolineAddr)&gt;</tspan></text></g>
<g id="n37"><rect class="r" x="592.8" y="3421.7" width="238" height="55"/><text><tspan x="603.8" y="3437.7">llvm::orc::shared::</tspan><tspan x="603.8" y="3452.3">RPCFunction&lt; TerminateSession,</tspan><tspan class="m" x="711.8" y="3466.9">void()&gt;</tspan></text></g>
<g id="n38"><rect class="r" x="604.5" y="3500.3" width="214.5" height="55"/><text><tspan x="615.5" y="3516.3">llvm::orc::shared::</tspan><tspan x="615.5" y="3530.9">RPCFunction&lt; OrcRPCInvalid,</tspan><tspan class="m" x="711.8" y="3545.5">void()&gt;</tspan></text></g>
<g id="n39"><rect class="r" x="594.4" y="3579.3" width="234.8" height="55"/><text><tspan x="605.4" y="3595.3">llvm::orc::shared::</tspan><tspan x="605.4" y="3609.9">RPCFunction&lt; OrcRPCNegotiate,</tspan><tspan class="m" x="711.8" y="3624.5">FunctionIdT(std::string)&gt;</tspan></text></g>
<g id="n40"><rect class="r" x="594.9" y="3657.7" width="233.8" height="55"/><text><tspan x="605.9" y="3673.7">llvm::orc::shared::</tspan><tspan x="605.9" y="3688.3">RPCFunction&lt; OrcRPCResponse,</tspan><tspan class="m" x="711.8" y="3702.9">void()&gt;</tspan></text></g>
<g id="d1"><rect class="g" x="914.6" y="45.1" width="146.9" height="40.2"/><text><tspan x="925.6" y="61.1">llvm::orc::orcrpctpc</tspan><tspan class="m" x="988" y="75.7">::CloseConnection</tspan></text></g>
<g id="d2"><rect class="g" x="914.6" y="123.9" width="146.9" height="40.2"/><text><tspan x="925.6" y="139.9">llvm::orc::orcrpctpc</tspan><tspan class="m" x="988" y="154.5">::FinalizeMem</tspan></text></g>
<g id="d3"><rect class="g" x="914.6" y="202.4" width="146.9" height="40.2"/><text><tspan x="925.6" y="218.4">llvm::orc::orcrpctpc</tspan><tspan class="m" x="988" y="233">::GetPageSize</tspan></text></g>
<g id="d4"><rect class="g" x="914.6" y="281.4" width="146.9" height="40.2"/><text><tspan x="925.6" y="297.4">llvm::orc::orcrpctpc</tspan><tspan class="m" x="988" y="312">::GetTargetTriple</tspan></text></g>
<g id="d5"><rect class="g" x="914.6" y="367.9" width="146.9" height="40.2"/><text><tspan x="925.6" y="383.9">llvm::orc::orcrpctpc</tspan><tspan class="m" x="988" y="398.5">::LoadDylib</tspan></text></g>
<g id="d6"><rect class="g" x="914.6" y="469.1" width="146.9" height="40.2"/><text><tspan x="925.6" y="485.1">llvm::orc::orcrpctpc</tspan><tspan class="m" x="988" y="499.7">::LookupSymbols</tspan></text></g>
<g id="d7"><rect class="g" x="914.6" y="562.7" width="146.9" height="40.2"/><text><tspan x="925.6" y="578.7">llvm::orc::orcrpctpc</tspan><tspan class="m" x="988" y="593.3">::ReleaseMem</tspan></text></g>
<g id="d8"><rect class="g" x="914.6" y="649.2" width="146.9" height="40.2"/><text><tspan x="925.6" y="665.2">llvm::orc::orcrpctpc</tspan><tspan class="m" x="988" y="679.8">::ReserveMem</tspan></text></g>
</svg>
